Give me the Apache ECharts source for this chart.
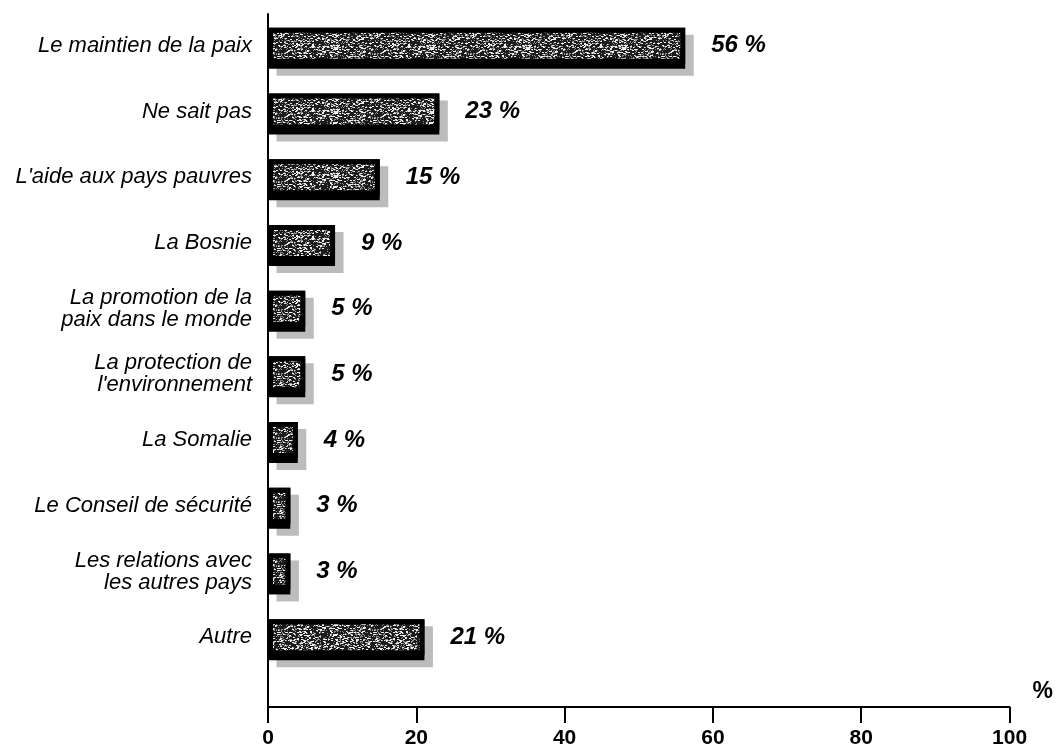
<!DOCTYPE html>
<html>
<head>
<meta charset="utf-8">
<script src="https://cdn.jsdelivr.net/npm/echarts@6/dist/echarts.min.js"></script>
<style>
html,body{margin:0;padding:0;background:#fff;}
#chart{width:1056px;height:749px;}
</style>
</head>
<body>
<div id="chart"></div>
<script>
const categories = [
  'Le maintien de la paix',
  'Ne sait pas',
  "L'aide aux pays pauvres",
  'La Bosnie',
  'La promotion de la\npaix dans le monde',
  "La protection de\nl'environnement",
  'La Somalie',
  'Le Conseil de sécurité',
  'Les relations avec\nles autres pays',
  'Autre'
];
const values = [56, 23, 15, 9, 5, 5, 4, 3, 3, 21];
const xTicks = [0, 20, 40, 60, 80, 100];
const axisName = '%';

// speckled dark texture (deterministic hash, style only)
function makeTexture() {
  const c = document.createElement('canvas');
  c.width = 96; c.height = 64;
  const ctx = c.getContext('2d');
  ctx.fillStyle = '#1c1c1c';
  ctx.fillRect(0, 0, c.width, c.height);
  for (let i = 0; i < c.width; i++) {
    for (let j = 0; j < c.height; j++) {
      let h = ((i * 73856093) ^ (j * 19349663) ^ (i * j * 83492791)) >>> 0;
      h = Math.imul(h ^ (h >>> 13), 1274126177) >>> 0;
      h = (h ^ (h >>> 16)) >>> 0;
      const r = (h % 1000) / 1000;
      if (r < 0.12) {
        ctx.fillStyle = '#eeeeee';
        ctx.fillRect(i, j, 2, 1);
      } else if (r < 0.30) {
        ctx.fillStyle = '#909090';
        ctx.fillRect(i, j, 1, 1);
      }
    }
  }
  return c;
}

const chart = echarts.init(document.getElementById('chart'), null, {renderer: 'canvas'});
const font = '"Liberation Sans", Arial, Helvetica, sans-serif';

chart.setOption({
  animation: false,
  backgroundColor: '#fff',
  grid: [
    {left: 268, right: 43, top: 13, bottom: 79},
    {left: 268, right: 43, top: 14, bottom: 41}
  ],
  xAxis: [
    {gridIndex: 0, type: 'value', min: 0, max: 100, show: false},
    {
      gridIndex: 1, type: 'value', min: 0, max: 100, interval: 20,
      axisLine: {show: true, lineStyle: {color: '#000', width: 2}},
      axisTick: {show: true, length: 16, lineStyle: {color: '#000', width: 2}},
      axisLabel: {
        margin: 21, color: '#000', fontFamily: font, fontWeight: 'bold', fontSize: 21,
        formatter: v => xTicks.includes(v) ? String(v) : ''
      },
      splitLine: {show: false},
      name: axisName, nameLocation: 'end', nameGap: 23,
      nameTextStyle: {
        color: '#000', fontFamily: font, fontWeight: 'bold', fontSize: 23,
        align: 'left', verticalAlign: 'bottom', padding: [0, 0, 4, 0]
      }
    }
  ],
  yAxis: [
    {
      gridIndex: 0, type: 'category', inverse: true, data: categories,
      axisLine: {show: false}, axisTick: {show: false}, splitLine: {show: false},
      axisLabel: {
        margin: 16, color: '#000', fontFamily: font, fontStyle: 'italic',
        fontSize: 22, lineHeight: 22, align: 'right'
      }
    },
    {
      gridIndex: 1, type: 'value', min: 0, max: 1,
      axisLine: {show: true, onZero: false, lineStyle: {color: '#000', width: 2}},
      axisTick: {show: false}, axisLabel: {show: false}, splitLine: {show: false}
    }
  ],
  series: [
    {
      // drop shadow layer
      type: 'bar', xAxisIndex: 0, yAxisIndex: 0,
      data: values, barWidth: 41, barGap: '-100%',
      silent: true,
      itemStyle: {
        color: '#000',
        shadowColor: '#bcbcbc', shadowBlur: 0, shadowOffsetX: 8.5, shadowOffsetY: 7
      }
    },
    {
      type: 'bar', xAxisIndex: 0, yAxisIndex: 0,
      data: values, barWidth: 36, barGap: '-100%',
      itemStyle: {
        color: {image: makeTexture(), repeat: 'repeat'},
        borderColor: '#000', borderWidth: 5
      },
      label: {
        show: true, position: 'right', distance: 26,
        formatter: p => p.value + ' %',
        color: '#000', fontFamily: font, fontWeight: 'bold', fontStyle: 'italic', fontSize: 24
      }
    }
  ]
});
</script>
</body>
</html>
